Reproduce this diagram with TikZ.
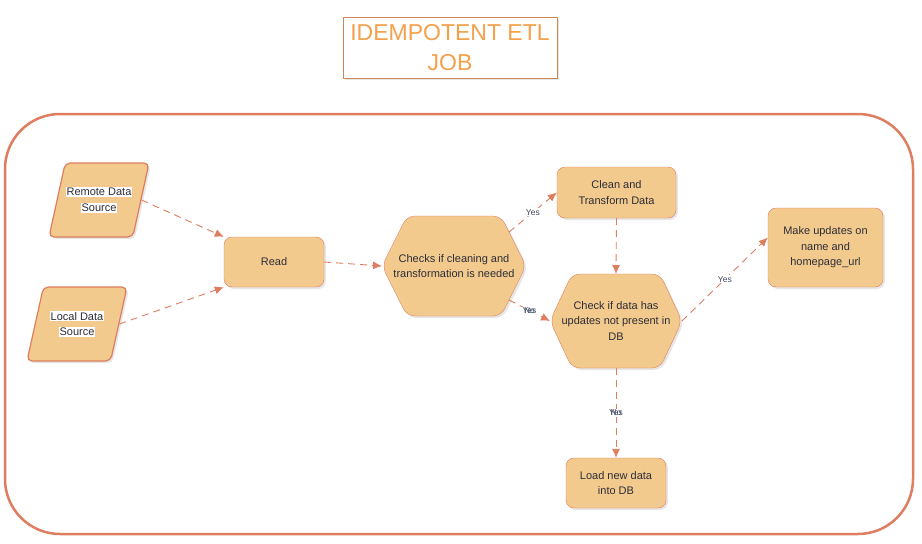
\documentclass[tikz,border=0pt]{standalone}
\usepackage{fontspec}
\setmainfont{Liberation Sans}
\usepackage{xcolor}
\usetikzlibrary{shapes.geometric,shadows,arrows.meta}
\definecolor{boxfill}{RGB}{243,202,142}
\definecolor{edge}{RGB}{222,125,95}
\definecolor{ink}{RGB}{45,45,55}
\definecolor{slate}{RGB}{70,75,100}
\definecolor{titletext}{RGB}{245,160,75}
\definecolor{titleline}{RGB}{205,135,85}
\newcommand{\wbg}[1]{{\setlength{\fboxsep}{1pt}\colorbox{white}{#1}}}
\tikzset{
  >={Latex[length=9pt,width=8pt]},
}
\tikzstyle{every node}=[font=\fontsize{11}{15.5}\selectfont,text=ink]
\tikzstyle{softshadow}=[drop shadow={opacity=.2,shadow xshift=2pt,shadow yshift=-2pt}]
\tikzstyle{block}=[draw=edge,fill=boxfill,rounded corners=8pt,align=center,softshadow]
\tikzstyle{source}=[trapezium,trapezium left angle=63,trapezium right angle=117,
  trapezium stretches body,draw=edge,line width=1.2pt,fill=boxfill,rounded corners=5pt,align=center,
  softshadow,minimum width=100pt,minimum height=74pt,inner xsep=0pt]
\tikzstyle{hexagon}=[draw=edge,fill=boxfill,rounded corners=8pt,softshadow]
\tikzstyle{flow}=[->,draw=edge,dash pattern=on 7pt off 5pt,line width=.9pt]
\tikzstyle{answer}=[fill=white,inner sep=1pt,font=\fontsize{8.5}{9}\selectfont,text=slate]

\begin{document}
\begin{tikzpicture}[x=1pt,y=-1pt]
  \useasboundingbox (0,0) rectangle (922,544);
  % outer frame
  \draw[edge,line width=2.5pt,rounded corners=55pt] (5,114) rectangle (913,534);
  % title
  \node[draw=titleline,fill=white,softshadow,minimum width=214pt,minimum height=61pt,
    align=center,text=titletext,font=\fontsize{23}{30}\selectfont] (title) at (450,47.5)
    {IDEMPOTENT ETL\\JOB};
  % sources
  \node[source] (remote) at (99,200) {\wbg{Remote Data}\\\wbg{Source}};
  \node[source] (local) at (77,324) {\wbg{Local Data}\\\wbg{Source}};
  % steps
  \node[block,minimum width=100pt,minimum height=50pt] (read) at (274,262) {Read};
  \node[block,minimum width=119pt,minimum height=51pt] (clean) at (616.5,192.5) {Clean and\\Transform Data};
  \node[block,minimum width=115pt,minimum height=79pt] (update) at (825.5,247.5) {Make updates on\\name and\\homepage\_url};
  \node[block,minimum width=100pt,minimum height=50pt] (load) at (616,483) {Load new data\\into DB};
  % decisions
  \draw[hexagon,shift={(454,266)}] (-72,0) coordinate (c1w) -- (-47,-50) -- (47,-50)
    -- coordinate[pos=.32] (c1ne) (72,0) -- coordinate[pos=.68] (c1se) (47,50) -- (-47,50) -- cycle;
  \node[align=center] (chk1) at (454,266) {Checks if cleaning and\\transformation is needed};
  \draw[hexagon,shift={(616,321)}] (-66,0) coordinate (c2w) -- (-44,-47) -- coordinate (c2n) (44,-47)
    -- (66,0) coordinate (c2e) -- (44,47) -- coordinate (c2s) (-44,47) -- cycle;
  \node[align=center] (chk2) at (616,321) {Check if data has\\updates not present in\\DB};
  % connectors
  \draw[flow] (remote.east) -- (read.north west);
  \draw[flow] (local.east) -- (read.south west);
  \draw[flow] (read.east) -- (c1w);
  \draw[flow] (c1ne) -- node[answer]{Yes} (clean.west);
  \draw[flow] (c1se) -- node[answer]{Yes} node[answer,fill=none]{No} (c2w);
  \draw[flow] (clean.south) -- (c2n);
  \draw[flow] (c2e) -- node[answer]{Yes} ([yshift=10pt]update.west);
  \draw[flow] (c2s) -- node[answer]{No} node[answer,fill=none]{Yes} (load.north);
\end{tikzpicture}
\end{document}
